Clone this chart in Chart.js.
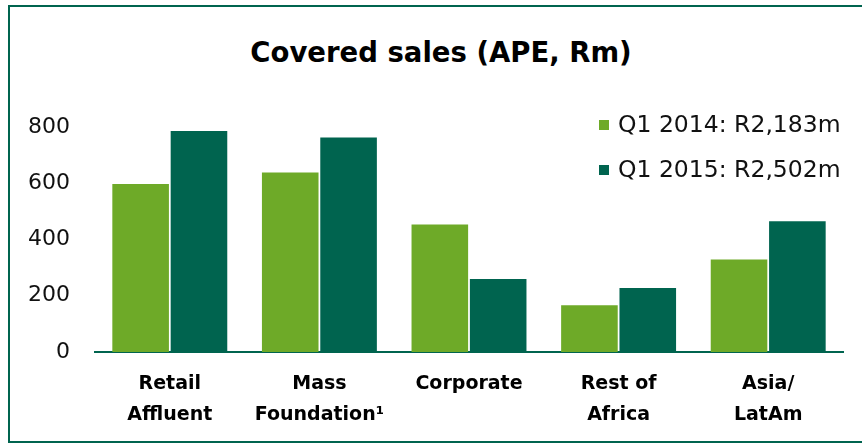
<!DOCTYPE html>
<html>
<head>
<meta charset="utf-8">
<script src="https://cdn.jsdelivr.net/npm/chart.js@4.4.1/dist/chart.umd.min.js"></script>
<style>
  html, body { margin: 0; padding: 0; background: #fff; overflow: hidden; }
  #wrap { position: relative; width: 862px; height: 444px; }
  #frame {
    position: absolute; left: 8px; top: 5px; width: 900px; height: 438px;
    box-sizing: border-box; border: 2px solid #00644f;
  }
  #title {
    position: absolute; left: 0; top: 36px; width: 882px; line-height: 30px;
    text-align: center; font: bold 27.5px "DejaVu Sans", sans-serif; color: #000;
  }
  #chart { position: absolute; left: 0; top: 0; }
</style>
</head>
<body>
<div id="wrap">
  <div id="frame"></div>
  <div id="title">Covered sales (APE, Rm)</div>
  <canvas id="chart" width="862" height="444"></canvas>
</div>
<script>
const categories = [
  ['Retail', 'Affluent'],
  ['Mass', 'Foundation\u00b9'],
  ['Corporate'],
  ['Rest of', 'Africa'],
  ['Asia/', 'LatAm']
];
const seriesNames = ['Q1 2014: R2,183m', 'Q1 2015: R2,502m'];
const q1_2014 = [597, 638, 453, 166, 329];
const q1_2015 = [786, 763, 260, 228, 465];
const yTicks = [0, 200, 400, 600, 800];

const lightGreen = '#6eaa28';
const darkGreen = '#00644f';
const fontFamily = '"DejaVu Sans", sans-serif';

// legend drawn inside the plot area, top right
const innerLegend = {
  id: 'innerLegend',
  afterDraw(chart) {
    const ctx = chart.ctx;
    const area = chart.chartArea;
    const x = area.right - 244;
    let y = area.top - 2;
    ctx.save();
    ctx.font = '23.5px ' + fontFamily;
    ctx.textBaseline = 'middle';
    ctx.textAlign = 'left';
    chart.data.datasets.forEach(ds => {
      ctx.fillStyle = ds.backgroundColor;
      ctx.fillRect(x, y - 5, 10, 10);
      ctx.fillStyle = '#111';
      ctx.fillText(ds.label, x + 19, y + 1);
      y += 45;
    });
    ctx.restore();
  }
};

new Chart(document.getElementById('chart'), {
  type: 'bar',
  data: {
    labels: categories,
    datasets: [
      { label: seriesNames[0], data: q1_2014, backgroundColor: lightGreen },
      { label: seriesNames[1], data: q1_2015, backgroundColor: darkGreen }
    ]
  },
  options: {
    responsive: false,
    animation: false,
    events: [],
    categoryPercentage: 0.78,
    barPercentage: 0.97,
    layout: { padding: { left: 20, right: 19, top: 127, bottom: 16 } },
    plugins: {
      legend: { display: false },
      tooltip: { enabled: false },
      title: { display: false }
    },
    scales: {
      x: {
        afterFit(axis) { axis.height = 76; },
        grid: { display: false, drawTicks: false },
        border: { display: true, color: darkGreen, width: 2 },
        ticks: {
          color: '#000',
          padding: 17,
          maxRotation: 0,
          font: { family: fontFamily, size: 19, weight: 'bold', lineHeight: 1.63 }
        }
      },
      y: {
        min: 0,
        max: 800,
        afterBuildTicks(axis) { axis.ticks = yTicks.map(v => ({ value: v })); },
        afterFit(axis) { axis.width = 75; },
        grid: { display: false, drawTicks: false },
        border: { display: false },
        ticks: {
          color: '#111',
          padding: 25,
          font: { family: fontFamily, size: 22 }
        }
      }
    }
  },
  plugins: [innerLegend]
});
</script>
</body>
</html>
